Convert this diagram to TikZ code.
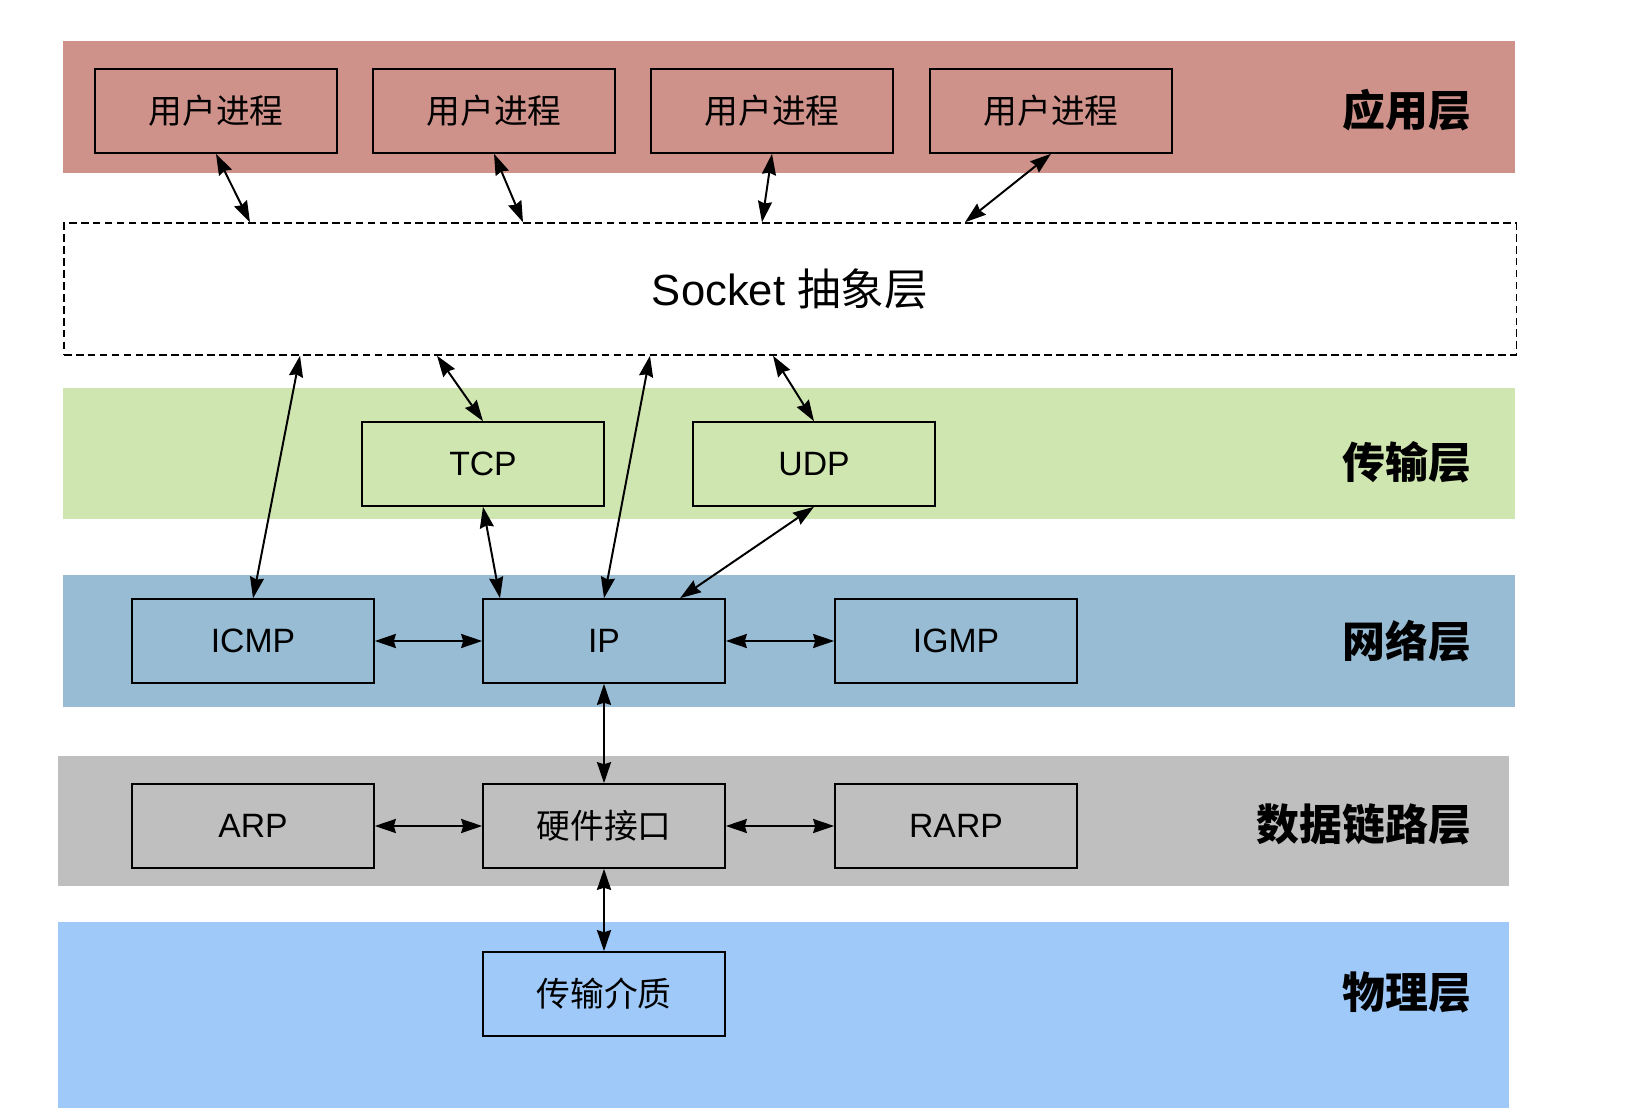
\documentclass[tikz,border=0pt]{standalone}
\usepackage{fontspec}
\setmainfont{Liberation Sans}
\newfontfamily\cjk{Noto Sans CJK SC}
\usepackage{xcolor}
\usetikzlibrary{positioning,calc,arrows.meta}

\definecolor{appcol}{RGB}{207,146,139}
\definecolor{transcol}{RGB}{208,230,176}
\definecolor{netcol}{RGB}{152,188,212}
\definecolor{linkcol}{RGB}{191,191,191}
\definecolor{physcol}{RGB}{158,201,248}

\tikzset{
    box/.style={draw, line width=1.1pt, inner sep=0pt, minimum width=6.05cm, minimum height=2.1cm,
                font=\fontsize{24}{24}\selectfont},
    link/.style={{Stealth[length=15pt,width=10pt,inset=1.5pt]}-{Stealth[length=15pt,width=10pt,inset=1.5pt]},
                 line width=1.4pt},
    layername/.style={anchor=east, font=\cjk\bfseries\fontsize{30.5}{30.5}\selectfont}
}

\begin{document}
\begin{tikzpicture}[x=0.025cm,y=-0.025cm]
    \useasboundingbox (0,0) rectangle (1641,1108);

    % Layers
    \fill[appcol]   (63,41)  rectangle (1515,173);
    \fill[transcol] (63,388) rectangle (1515,519);
    \fill[netcol]   (63,575) rectangle (1515,707);
    \fill[linkcol]  (58,756) rectangle (1509,886);
    \fill[physcol]  (58,922) rectangle (1509,1108);

    \node[layername] (appname)   at (1476,110) {应用层};
    \node[layername] (transname) at (1476,462) {传输层};
    \node[layername] (netname)   at (1476,641) {网络层};
    \node[layername] (linkname)  at (1476,824) {数据链路层};
    \node[layername] (physname)  at (1476,992) {物理层};

    % Application
    \node[box] (proc1) at (216,111)  {\cjk 用户进程};
    \node[box] (proc2) at (494,111)  {\cjk 用户进程};
    \node[box] (proc3) at (772,111)  {\cjk 用户进程};
    \node[box] (proc4) at (1051,111) {\cjk 用户进程};

    % Socket
    \node[draw, dashed, dash pattern=on 5.5pt off 3pt, line width=1pt, minimum width=36.3cm, minimum height=3.3cm,
          inner sep=0pt, font=\fontsize{31}{31}\selectfont] (socket) at (790,289) {Socket {\cjk 抽象层}};

    % Transport
    \node[box] (tcp) at (483,464) {TCP};
    \node[box] (udp) at (814,464) {UDP};

    % Network
    \node[box] (icmp) at (253,641) {ICMP};
    \node[box] (ip)   at (604,641) {IP};
    \node[box] (igmp) at (956,641) {IGMP};

    % Data link
    \node[box] (arp)  at (253,826) {ARP};
    \node[box] (hw)   at (604,826) {\cjk 硬件接口};
    \node[box] (rarp) at (956,826) {RARP};

    % Physical
    \node[box] (medium) at (604,994) {\cjk 传输介质};

    % Arrows
    \draw[link] (proc1.south) -- (socket.north -| 250,0);
    \draw[link] (proc2.south) -- (socket.north -| 523,0);
    \draw[link] (proc3.south) -- (socket.north -| 762,0);
    \draw[link] (proc4.south) -- (socket.north -| 965,0);

    \draw[link] (socket.south -| 300,0) -- (icmp.north);
    \draw[link] (socket.south -| 437,0) -- (tcp.north);
    \draw[link] (socket.south -| 650,0) -- (ip.north);
    \draw[link] (socket.south -| 773,0) -- (udp.north);

    \draw[link] (tcp.south) -- (ip.north -| 500,0);
    \draw[link] (udp.south) -- (ip.north -| 680,0);

    \draw[link] (icmp.east) -- (ip.west);
    \draw[link] (ip.east) -- (igmp.west);
    \draw[link] (ip.south) -- (hw.north);
    \draw[link] (arp.east) -- (hw.west);
    \draw[link] (hw.east) -- (rarp.west);
    \draw[link] (hw.south) -- (medium.north);
\end{tikzpicture}
\end{document}
